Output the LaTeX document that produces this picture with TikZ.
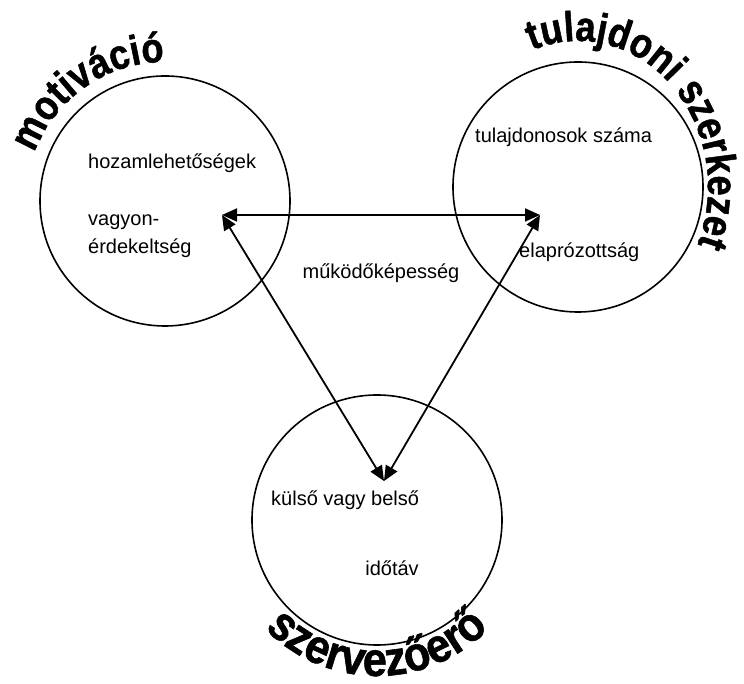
\documentclass[tikz,border=0pt]{standalone}
\usepackage{fontspec}
\setmainfont{Liberation Sans}
\newfontfamily\titlefont{Liberation Sans Bold}[FakeStretch=0.86, FakeBold=1.2]
\newfontfamily\basefont{Liberation Sans Bold}[FakeStretch=0.9, FakeBold=1.2]
\usetikzlibrary{arrows.meta,decorations.text}

\newcommand{\topword}{\titlefont\fontsize{42}{44}\selectfont}
\newcommand{\baseword}{\basefont\fontsize{48}{50}\selectfont}

\begin{document}
\begin{tikzpicture}[x=1pt, y=1pt, >={Triangle[length=15pt,width=13pt]},
  font=\fontsize{20}{28}\selectfont,
  area/.style={draw, circle, line width=1.6pt, minimum size=250pt, inner sep=0pt},
  link/.style={<->, line width=1.8pt},
  item/.style={anchor=west, inner sep=0pt, align=left},
  curved/.style={decorate, decoration={text along path, text align=center, text={#1}}}]
  \useasboundingbox (0,0) rectangle (744,684);

  % the three areas
  \node[area] (mot) at (165,483) {};
  \node[area] (tul) at (578,497) {};
  \node[area] (szer) at (377,164) {};

  % curved titles
  \path[curved={|\topword|motiváció}] ([shift={(170:139)}]mot.center) arc[start angle=170, end angle=80, radius=139];
  \path[curved={|\topword|tulajdoni szerkezet}] ([shift={(118:130 and 146)}]tul.center)
    arc[start angle=118, end angle=-30, x radius=130, y radius=146];
  \path[curved={|\baseword|szervezőerő}] ([shift={(215:156)}]szer.center) arc[start angle=215, end angle=325, radius=156];

  % items inside the circles
  \node[item] (hozam) at (88,521) {hozamlehetőségek};
  \node[item] (vagyon) at (88,448) {vagyon-\\érdekeltség};
  \node[item] (tulszam) at (475,547) {tulajdonosok száma};
  \node[item] (elapr) at (519,432) {elaprózottság};
  \node[item] (kulso) at (271,184) {külső vagy belső};
  \node (idotav) at (392,116) {időtáv};
  \node (mukodo) at (381,411) {működőképesség};

  % links
  \coordinate (mp) at (222,469);
  \coordinate (tp) at (540,469);
  \coordinate (sp) at (384,203);
  \draw[link] (mp) -- (tp);
  \draw[link] (mp) -- (sp);
  \draw[link] (tp) -- (sp);
\end{tikzpicture}
\end{document}
